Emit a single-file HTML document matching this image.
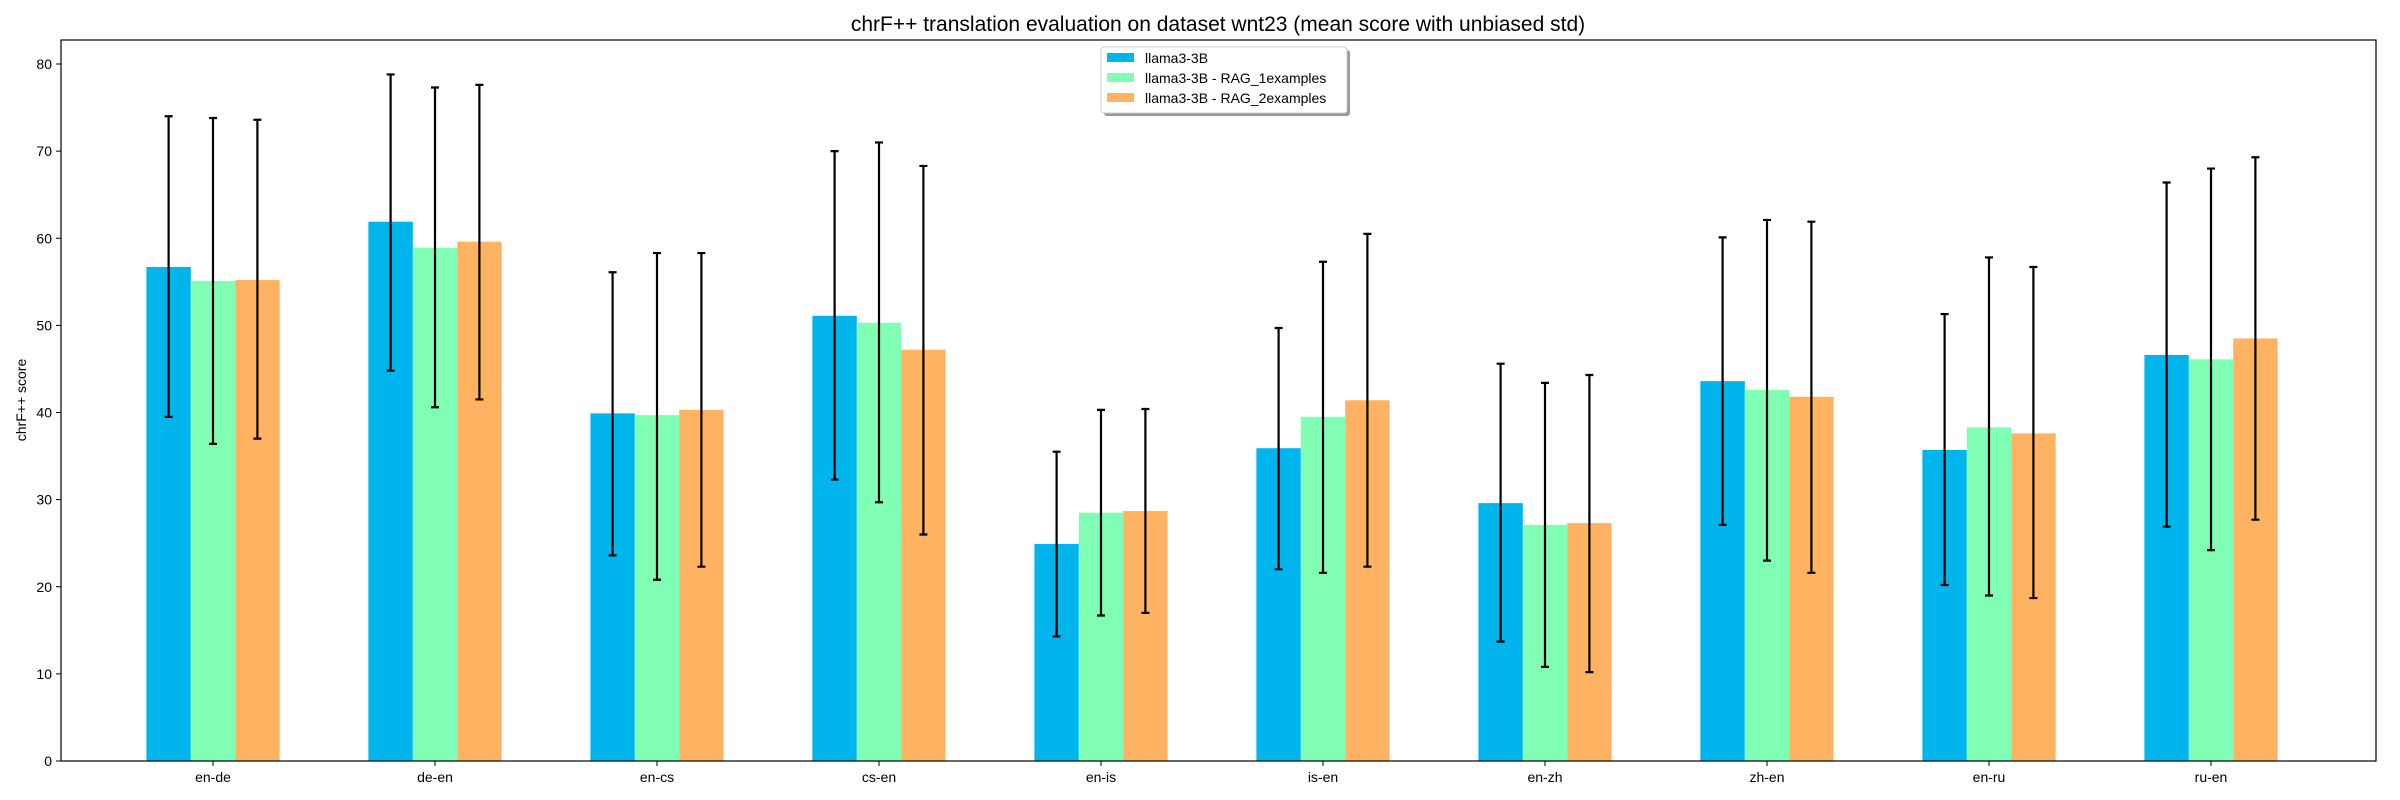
<!DOCTYPE html>
<html><head><meta charset="utf-8"><style>body{margin:0;background:#fff}svg{display:block;font-family:"Liberation Sans","DejaVu Sans",sans-serif}</style></head>
<body>
<svg id="chart" width="2400" height="800" xmlns="http://www.w3.org/2000/svg">
<text x="1218" y="31" font-size="21" text-anchor="middle" fill="#000">chrF++ translation evaluation on dataset wnt23 (mean score with unbiased std)</text>
<g id="plot"></g>
<text transform="translate(26,400) rotate(-90)" font-size="14" text-anchor="middle">chrF++ score</text>
</svg>
<script>
const categories=["en-de","de-en","en-cs","cs-en","en-is","is-en","en-zh","zh-en","en-ru","ru-en"];
const seriesNames=["llama3-3B","llama3-3B - RAG_1examples","llama3-3B - RAG_2examples"];
const base=[56.7,61.9,39.9,51.1,24.9,35.9,29.6,43.6,35.7,46.6];
const rag1=[55.1,58.9,39.7,50.3,28.5,39.5,27.1,42.6,38.3,46.1];
const rag2=[55.2,59.6,40.3,47.2,28.7,41.4,27.3,41.8,37.6,48.5];
const baseLo=[39.5,44.8,23.6,32.3,14.3,22.0,13.7,27.1,20.2,26.9];
const baseHi=[74.0,78.8,56.1,70.0,35.5,49.7,45.6,60.1,51.3,66.4];
const rag1Lo=[36.4,40.6,20.8,29.7,16.7,21.6,10.8,23.0,19.0,24.2];
const rag1Hi=[73.8,77.3,58.3,71.0,40.3,57.3,43.4,62.1,57.8,68.0];
const rag2Lo=[37.0,41.5,22.3,26.0,17.0,22.3,10.2,21.6,18.7,27.7];
const rag2Hi=[73.6,77.6,58.3,68.3,40.4,60.5,44.3,61.9,56.7,69.3];
const yTicks=[0,10,20,30,40,50,60,70,80];

const colors=["#00b4ec","#80ffb4","#ffb262"];
const L=61,R=2376,T=40,B=761;
const y=v=>B-v*(B-64)/80;
const step=222,x0=213;
const xc=i=>x0+i*step;
const bw=44.4;
const NS="http://www.w3.org/2000/svg";
const g=document.getElementById('plot');
function mk(t,a){const e=document.createElementNS(NS,t);for(const k in a)e.setAttribute(k,a[k]);g.appendChild(e);return e;}
const vals=[base,rag1,rag2],los=[baseLo,rag1Lo,rag2Lo],his=[baseHi,rag1Hi,rag2Hi];
for(let s=0;s<3;s++){for(let i=0;i<categories.length;i++){
 const cx=xc(i)+(s-1)*bw;
 const r=mk('rect',{x:cx-bw/2,y:y(vals[s][i]),width:bw,height:B-y(vals[s][i]),fill:colors[s]});
 
 
}}
for(let s=0;s<3;s++){for(let i=0;i<categories.length;i++){
 const cx=xc(i)+(s-1)*bw;
 const e=mk('path',{d:`M${cx},${y(los[s][i])}V${y(his[s][i])}M${cx-4},${y(los[s][i])}H${cx+4}M${cx-4},${y(his[s][i])}H${cx+4}`,stroke:'#000','stroke-width':2.2,fill:'none'});
 
 
}}
const ax=mk('rect',{x:L,y:T,width:R-L,height:B-T,fill:'none',stroke:'#000','stroke-width':1.2});


yTicks.forEach(v=>{
 mk('line',{x1:L-5,x2:L,y1:y(v),y2:y(v),stroke:'#000'});
 const t=mk('text',{x:L-9,y:y(v)+5,'font-size':14,'text-anchor':'end'});t.textContent=v;
 
 
});
categories.forEach((c,i)=>{
 mk('line',{x1:xc(i),x2:xc(i),y1:B,y2:B+5,stroke:'#000'});
 const t=mk('text',{x:xc(i),y:B+21,'font-size':14,'text-anchor':'middle'});t.textContent=c;
 
 
});
// legend
const lg=document.createElementNS(NS,'g');g.appendChild(lg);


const sh=document.createElementNS(NS,'rect');
[['x',1104],['y',50],['width',246],['height',66],['rx',3],['fill','#999']].forEach(a=>sh.setAttribute(a[0],a[1]));lg.appendChild(sh);
const bx=document.createElementNS(NS,'rect');
[['x',1101],['y',47],['width',246],['height',66],['rx',3],['fill','#fff'],['stroke','#ccc']].forEach(a=>bx.setAttribute(a[0],a[1]));lg.appendChild(bx);
seriesNames.forEach((n,s)=>{
 const sw=document.createElementNS(NS,'rect');
 [['x',1107],['y',53+s*20],['width',27],['height',9],['fill',colors[s]]].forEach(a=>sw.setAttribute(a[0],a[1]));
 
 
 lg.appendChild(sw);
 const t=document.createElementNS(NS,'text');
 [['x',1145],['y',63+s*20],['font-size',14]].forEach(a=>t.setAttribute(a[0],a[1]));
 t.textContent=n;
 
 
 lg.appendChild(t);
});
</script>
</body></html>
